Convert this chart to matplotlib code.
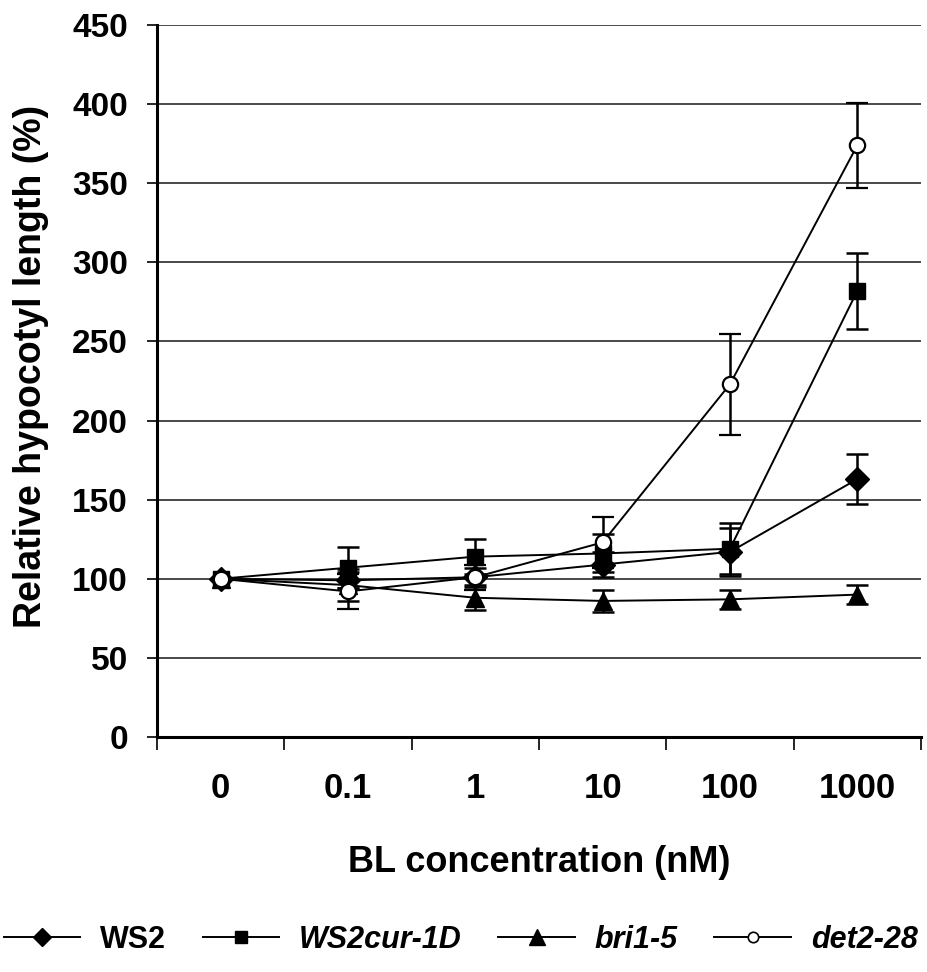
import numpy as np
import matplotlib
matplotlib.use("Agg")
import matplotlib.pyplot as plt
from matplotlib.lines import Line2D

# ---- data ----
categories = ["0", "0.1", "1", "10", "100", "1000"]
ws2 = [100, 99, 101, 109, 117, 163]
ws2_err = [np.nan, 5, 6, 8, 15, 16]
ws2cur = [100, 107, 114, 116, 119, 282]
ws2cur_err = [np.nan, 13, 11, 12, 16, 24]
bri15 = [100, 96, 88, 86, 87, 90]
bri15_err = [np.nan, 10, 8, 7, 6, 6]
det228 = [100, 92, 101, 123, 223, 374]
det228_err = [np.nan, 11, 8, 16, 32, 27]
series_names = ["WS2", "WS2cur-1D", "bri1-5", "det2-28"]
y_ticks = [0, 50, 100, 150, 200, 250, 300, 350, 400, 450]

plt.rcParams['font.family'] = ['Liberation Sans', 'DejaVu Sans']

W, H = 927, 972
fig = plt.figure(figsize=(W / 100, H / 100), dpi=100)
L, R, T, B = 157, 921, 25, 737
ax = fig.add_axes([L / W, 1 - B / H, (R - L) / W, (B - T) / H])

x = np.arange(len(categories))
styles = [
    dict(marker='D', ms=12, mfc='black', mec='black'),
    dict(marker='s', ms=11.5, mfc='black', mec='black'),
    dict(marker='^', ms=13, mfc='black', mec='black'),
    dict(marker='o', ms=11, mfc='white', mec='black', mew=1.6),
]
datas = [ws2, ws2cur, bri15, det228]
errs = [ws2_err, ws2cur_err, bri15_err, det228_err]
for i, (d, e, st) in enumerate(zip(datas, errs, styles)):
    ax.errorbar(x, d, yerr=e, color='black', lw=1.4, elinewidth=1.8,
                capsize=8, capthick=1.8, zorder=3 + i, **st)

ax.set_xlim(-0.5, len(categories) - 0.5)
ax.set_ylim(0, 450)
ax.set_yticks(y_ticks)
ax.yaxis.grid(True, color='#2a2a2a', lw=1.2)
ax.set_axisbelow(True)

# x: ticks between categories, labels at centers
ax.set_xticks(np.arange(-0.5, len(categories), 1.0))
ax.set_xticklabels([])
ax.set_xticks(x, minor=True)
ax.set_xticklabels(categories, minor=True, fontsize=25, fontweight='bold')
ax.tick_params(axis='x', which='minor', length=0, pad=25)
ax.tick_params(axis='x', which='major', length=9, width=1.2, direction='out')
ax.tick_params(axis='y', length=7, width=1.2, direction='out', pad=14,
               labelsize=24)
for lab in ax.get_yticklabels():
    lab.set_fontweight('bold')

for s in ['top', 'right']:
    ax.spines[s].set_visible(False)
ax.spines['left'].set_linewidth(2.2)
ax.spines['bottom'].set_linewidth(2.2)

ax.set_xlabel("BL concentration (nM)", fontsize=26, fontweight='bold', va='center')
ax.xaxis.set_label_coords(0.5, (B - 862) / (B - T))
ax.set_ylabel("Relative hypocotyl length (%)", fontsize=27, fontweight='bold',
              va='center', ha='center')
ax.yaxis.set_label_coords((31 - L) / (R - L), (B - 366) / (B - T))

handles = [
    Line2D([], [], color='black', lw=1.4, marker='D', ms=9, mfc='black'),
    Line2D([], [], color='black', lw=1.4, marker='s', ms=8.5, mfc='black'),
    Line2D([], [], color='black', lw=1.4, marker='^', ms=11, mfc='black'),
    Line2D([], [], color='black', lw=1.4, marker='o', ms=7.5, mfc='white', mew=1.2),
]
leg = fig.legend(handles, series_names, loc='center', ncol=4,
                 bbox_to_anchor=(0.497, 1 - 940 / H), frameon=False,
                 handlelength=2.5, handletextpad=0.65, columnspacing=1.2,
                 prop=dict(size=22, weight='bold'))
for i, t in enumerate(leg.get_texts()):
    if i > 0:
        t.set_fontstyle('italic')

fig.savefig("out.png", dpi=100)
